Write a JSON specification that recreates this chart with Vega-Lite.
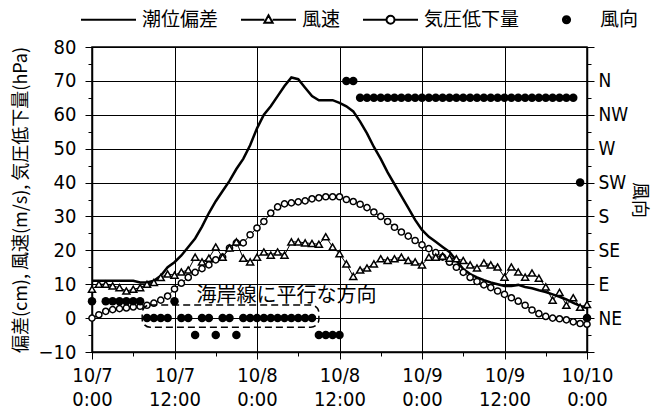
{
  "$schema": "https://vega.github.io/schema/vega-lite/v6.json",
  "width": 495,
  "height": 305,
  "autosize": {"type": "none"},
  "padding": {"left": 92, "top": 47, "right": 73, "bottom": 64},
  "background": "white",
  "config": {
    "view": {"stroke": "black", "strokeWidth": 1.5},
    "font": "Noto Sans CJK JP",
    "axis": {"labelFontWeight": "normal", "titleFontWeight": "normal", "labelColor": "black", "titleColor": "black"}
  },
  "data": {
    "values": [
      {"h": 0, "surge": 11, "wind": 8.5, "press": 0, "dir": 5},
      {"h": 1, "surge": 11, "wind": 10, "press": 1, "dir": null},
      {"h": 2, "surge": 11, "wind": 10, "press": 2, "dir": 5},
      {"h": 3, "surge": 11, "wind": 9.5, "press": 2.5, "dir": 5},
      {"h": 4, "surge": 11, "wind": 9, "press": 2.8, "dir": 5},
      {"h": 5, "surge": 11, "wind": 8, "press": 3, "dir": 5},
      {"h": 6, "surge": 11, "wind": 8.5, "press": 3.3, "dir": 5},
      {"h": 7, "surge": 10.5, "wind": 9, "press": 3.5, "dir": 5},
      {"h": 8, "surge": 10.5, "wind": 10, "press": 3.8, "dir": 0},
      {"h": 9, "surge": 11, "wind": 10.5, "press": 4.4, "dir": 0},
      {"h": 10, "surge": 12.5, "wind": 12, "press": 5.3, "dir": 0},
      {"h": 11, "surge": 15, "wind": 13, "press": 6.5, "dir": 0},
      {"h": 12, "surge": 16.5, "wind": 12.7, "press": 8.6, "dir": 5},
      {"h": 13, "surge": 18.5, "wind": 13.6, "press": 10.3, "dir": 0},
      {"h": 14, "surge": 21, "wind": 14.2, "press": 12, "dir": 0},
      {"h": 15, "surge": 23.5, "wind": 18, "press": 13.5, "dir": -5},
      {"h": 16, "surge": 27, "wind": 16.6, "press": 14.6, "dir": 0},
      {"h": 17, "surge": 31, "wind": 17.7, "press": 15.7, "dir": 0},
      {"h": 18, "surge": 34.5, "wind": 21, "press": 17.2, "dir": -5},
      {"h": 19, "surge": 37.5, "wind": 18, "press": 18, "dir": 0},
      {"h": 20, "surge": 40.5, "wind": 20.7, "press": 20.7, "dir": 0},
      {"h": 21, "surge": 44, "wind": 22.5, "press": 22.2, "dir": -5},
      {"h": 22, "surge": 47, "wind": 17.7, "press": 22.2, "dir": 0},
      {"h": 23, "surge": 51, "wind": 16.6, "press": 24.6, "dir": 0},
      {"h": 24, "surge": 56, "wind": 18, "press": 26.6, "dir": 0},
      {"h": 25, "surge": 60, "wind": 19.5, "press": 28.5, "dir": 0},
      {"h": 26, "surge": 62.5, "wind": 18.6, "press": 31, "dir": 0},
      {"h": 27, "surge": 65.5, "wind": 19.5, "press": 32.8, "dir": 0},
      {"h": 28, "surge": 68.5, "wind": 18.6, "press": 33.7, "dir": 0},
      {"h": 29, "surge": 71, "wind": 22.5, "press": 34, "dir": 0},
      {"h": 30, "surge": 70.5, "wind": 22.5, "press": 34.3, "dir": 0},
      {"h": 31, "surge": 68, "wind": 22.2, "press": 34.6, "dir": 0},
      {"h": 32, "surge": 65.5, "wind": 22, "press": 35.2, "dir": 0},
      {"h": 33, "surge": 64.3, "wind": 21.8, "press": 35.5, "dir": -5},
      {"h": 34, "surge": 64.3, "wind": 24, "press": 35.8, "dir": -5},
      {"h": 35, "surge": 64.3, "wind": 21, "press": 35.8, "dir": -5},
      {"h": 36, "surge": 63.5, "wind": 19, "press": 35.8, "dir": -5},
      {"h": 37, "surge": 62.5, "wind": 16, "press": 35, "dir": 70},
      {"h": 38, "surge": 61, "wind": 12.3, "press": 34.4, "dir": 70},
      {"h": 39, "surge": 58, "wind": 14.2, "press": 33.6, "dir": 65},
      {"h": 40, "surge": 54.5, "wind": 14.8, "press": 32.6, "dir": 65},
      {"h": 41, "surge": 50.5, "wind": 16, "press": 31.3, "dir": 65},
      {"h": 42, "surge": 47, "wind": 17.5, "press": 30, "dir": 65},
      {"h": 43, "surge": 43, "wind": 17, "press": 28.5, "dir": 65},
      {"h": 44, "surge": 39.5, "wind": 17.5, "press": 26.8, "dir": 65},
      {"h": 45, "surge": 36, "wind": 18, "press": 25.4, "dir": 65},
      {"h": 46, "surge": 32.5, "wind": 17, "press": 24.2, "dir": 65},
      {"h": 47, "surge": 29, "wind": 16.6, "press": 22.9, "dir": 65},
      {"h": 48, "surge": 26, "wind": 15.7, "press": 21.6, "dir": 65},
      {"h": 49, "surge": 24, "wind": 18, "press": 20.5, "dir": 65},
      {"h": 50, "surge": 22.5, "wind": 18, "press": 19.3, "dir": 65},
      {"h": 51, "surge": 21, "wind": 18.3, "press": 18, "dir": 65},
      {"h": 52, "surge": 19.5, "wind": 17.7, "press": 16.5, "dir": 65},
      {"h": 53, "surge": 17, "wind": 17.5, "press": 15, "dir": 65},
      {"h": 54, "surge": 14.5, "wind": 17, "press": 13.5, "dir": 65},
      {"h": 55, "surge": 13, "wind": 15.7, "press": 12, "dir": 65},
      {"h": 56, "surge": 12, "wind": 14.8, "press": 10.8, "dir": 65},
      {"h": 57, "surge": 11.2, "wind": 16.3, "press": 9.8, "dir": 65},
      {"h": 58, "surge": 10.5, "wind": 15.7, "press": 9, "dir": 65},
      {"h": 59, "surge": 10, "wind": 15.1, "press": 8, "dir": 65},
      {"h": 60, "surge": 9.5, "wind": 12.1, "press": 7, "dir": 65},
      {"h": 61, "surge": 9.5, "wind": 15.1, "press": 6, "dir": 65},
      {"h": 62, "surge": 9.8, "wind": 13.6, "press": 5, "dir": 65},
      {"h": 63, "surge": 9.2, "wind": 12.1, "press": 3.8, "dir": 65},
      {"h": 64, "surge": 8.8, "wind": 13.3, "press": 2.4, "dir": 65},
      {"h": 65, "surge": 8.2, "wind": 11.8, "press": 1.3, "dir": 65},
      {"h": 66, "surge": 7.7, "wind": 9.2, "press": 0.5, "dir": 65},
      {"h": 67, "surge": 7, "wind": 5.3, "press": 0, "dir": 65},
      {"h": 68, "surge": 6.3, "wind": 7.6, "press": -0.2, "dir": 65},
      {"h": 69, "surge": 5.5, "wind": 3.8, "press": -0.5, "dir": 65},
      {"h": 70, "surge": 4.5, "wind": 6, "press": -1.1, "dir": 65},
      {"h": 71, "surge": 3.6, "wind": 3.2, "press": -1.6, "dir": 40},
      {"h": 72, "surge": 3, "wind": 4, "press": -1.8, "dir": 0}
    ]
  },
  "resolve": {"axis": {"y": "independent"}},
  "layer": [
    {
      "mark": {"type": "line", "color": "black", "strokeWidth": 2.5},
      "encoding": {
        "x": {
          "field": "h", "type": "quantitative",
          "scale": {"domain": [0, 72], "nice": false, "zero": false},
          "axis": {
            "orient": "bottom", "title": null,
            "values": [0, 6, 12, 18, 24, 30, 36, 42, 48, 54, 60, 66, 72],
            "labelExpr": "datum.value % 12 == 0 ? ['10/' + (7 + floor(datum.value / 24)), (datum.value % 24) + ':00'] : ''",
            "labelFont": "Liberation Sans Narrow, DejaVu Sans Condensed, sans-serif",
            "labelFontSize": 20, "labelLineHeight": 24, "labelPadding": 6,
            "labelFlush": false, "labelOverlap": false, "labelBound": false,
            "grid": true, "gridColor": "black", "gridWidth": 1,
            "gridOpacity": {"condition": {"test": "datum.value % 12 != 0", "value": 0}, "value": 1},
            "tickColor": "black", "tickWidth": 1,
            "tickSize": {"condition": {"test": "datum.value % 12 != 0", "value": 4}, "value": 7},
            "domainColor": "black", "domainWidth": 1.5
          }
        },
        "y": {
          "field": "surge", "type": "quantitative",
          "scale": {"domain": [-10, 80], "nice": false, "zero": false},
          "axis": {
            "orient": "left",
            "title": "偏差(cm), 風速(m/s), 気圧低下量(hPa)",
            "titleFont": "Noto Sans CJK JP", "titleFontSize": 18, "titlePadding": 8,
            "values": [-10, -5, 0, 5, 10, 15, 20, 25, 30, 35, 40, 45, 50, 55, 60, 65, 70, 75, 80],
            "labelExpr": "datum.value % 10 == 0 ? datum.label : ''",
            "labelFont": "Liberation Sans Narrow, DejaVu Sans Condensed, sans-serif",
            "labelFontSize": 20, "labelPadding": 9, "labelOverlap": false, "labelBound": false, "labelFlush": false,
            "grid": true, "gridColor": "black", "gridWidth": 1,
            "gridOpacity": {"condition": {"test": "datum.value % 10 != 0", "value": 0}, "value": 1},
            "tickColor": "black", "tickWidth": 1,
            "tickSize": {"condition": {"test": "datum.value % 10 != 0", "value": 4}, "value": 7},
            "domainColor": "black", "domainWidth": 1.5
          }
        }
      }
    },
    {
      "mark": {"type": "line", "color": "black", "strokeWidth": 1},
      "encoding": {
        "x": {"field": "h", "type": "quantitative"},
        "y": {"field": "wind", "type": "quantitative", "axis": null}
      }
    },
    {
      "mark": {"type": "line", "color": "black", "strokeWidth": 1},
      "encoding": {
        "x": {"field": "h", "type": "quantitative"},
        "y": {"field": "press", "type": "quantitative", "axis": null}
      }
    },
    {
      "mark": {"type": "point", "shape": "circle", "filled": true, "fill": "white", "stroke": "black", "strokeWidth": 1.5, "size": 38, "opacity": 1},
      "encoding": {
        "x": {"field": "h", "type": "quantitative"},
        "y": {"field": "press", "type": "quantitative", "axis": null}
      }
    },
    {
      "mark": {"type": "point", "shape": "triangle-up", "filled": true, "fill": "white", "stroke": "black", "strokeWidth": 1.5, "size": 50, "opacity": 1},
      "encoding": {
        "x": {"field": "h", "type": "quantitative"},
        "y": {"field": "wind", "type": "quantitative", "axis": null}
      }
    },
    {
      "mark": {"type": "circle", "color": "black", "size": 72, "opacity": 1},
      "encoding": {
        "x": {"field": "h", "type": "quantitative"},
        "y": {
          "field": "dir", "type": "quantitative",
          "scale": {"domain": [-10, 80], "nice": false, "zero": false},
          "axis": {
            "orient": "right",
            "title": "風向", "titleAngle": 90,
            "titleFont": "Noto Sans CJK JP", "titleFontSize": 18, "titlePadding": 2,
            "values": [-10, -5, 0, 5, 10, 15, 20, 25, 30, 35, 40, 45, 50, 55, 60, 65, 70, 75, 80],
            "labelExpr": "datum.value == 70 ? 'N' : datum.value == 60 ? 'NW' : datum.value == 50 ? 'W' : datum.value == 40 ? 'SW' : datum.value == 30 ? 'S' : datum.value == 20 ? 'SE' : datum.value == 10 ? 'E' : datum.value == 0 ? 'NE' : ''",
            "labelFont": "Liberation Sans Narrow, DejaVu Sans Condensed, sans-serif",
            "labelFontSize": 19, "labelPadding": 4, "labelOverlap": false, "labelBound": false, "labelFlush": false,
            "grid": false,
            "tickColor": "black", "tickWidth": 1,
            "tickSize": {"condition": {"test": "datum.value % 10 != 0", "value": 4}, "value": 7},
            "domainColor": "black", "domainWidth": 1.5
          }
        }
      }
    },
    {
      "data": {"values": [{}]},
      "mark": {"type": "rect", "fill": "white", "fillOpacity": 0, "stroke": "black", "strokeWidth": 1.5, "strokeDash": [7, 4], "cornerRadius": 8},
      "encoding": {
        "x": {"datum": 7.3},
        "x2": {"datum": 33},
        "y": {"datum": 3.9, "axis": null},
        "y2": {"datum": -2.7}
      }
    },
    {
      "data": {"values": [{}]},
      "mark": {"type": "text", "text": "海岸線に平行な方向", "align": "left", "baseline": "middle", "fontSize": 20, "font": "Noto Sans CJK JP", "color": "black"},
      "encoding": {
        "x": {"datum": 15.2},
        "y": {"datum": 6.4, "axis": null}
      }
    },
    {
      "transform": [{"filter": "false"}],
      "mark": {"type": "point", "filled": false, "color": "black", "opacity": 1},
      "encoding": {
        "shape": {
          "field": "series", "type": "nominal",
          "scale": {
            "domain": ["潮位偏差", "風速", "気圧低下量", "風向"],
            "range": [
              "M-1,0L1,0",
              "M-1,0L-0.15,0M0.15,0L1,0M0,-0.16L0.15,0.11L-0.15,0.11Z",
              "M-1,0L-0.145,0M0.145,0L1,0M0.145,0A0.145,0.145,0,1,1,-0.145,0A0.145,0.145,0,1,1,0.145,0",
              "M0.13,0A0.13,0.13,0,1,1,-0.13,0A0.13,0.13,0,1,1,0.13,0M0.08,0A0.08,0.08,0,1,1,-0.08,0A0.08,0.08,0,1,1,0.08,0M0.03,0A0.03,0.03,0,1,1,-0.03,0A0.03,0.03,0,1,1,0.03,0"
            ]
          },
          "legend": {
            "orient": "none", "legendX": -12, "legendY": -56,
            "direction": "horizontal", "title": null,
            "symbolSize": 3025, "symbolStrokeWidth": 2, "symbolStrokeColor": "black", "symbolFillColor": "transparent",
            "labelFont": "Noto Sans CJK JP", "labelFontSize": 19, "labelColor": "black",
            "labelOffset": 5, "columnPadding": 18, "padding": 0, "labelLimit": 300
          }
        }
      }
    }
  ]
}
